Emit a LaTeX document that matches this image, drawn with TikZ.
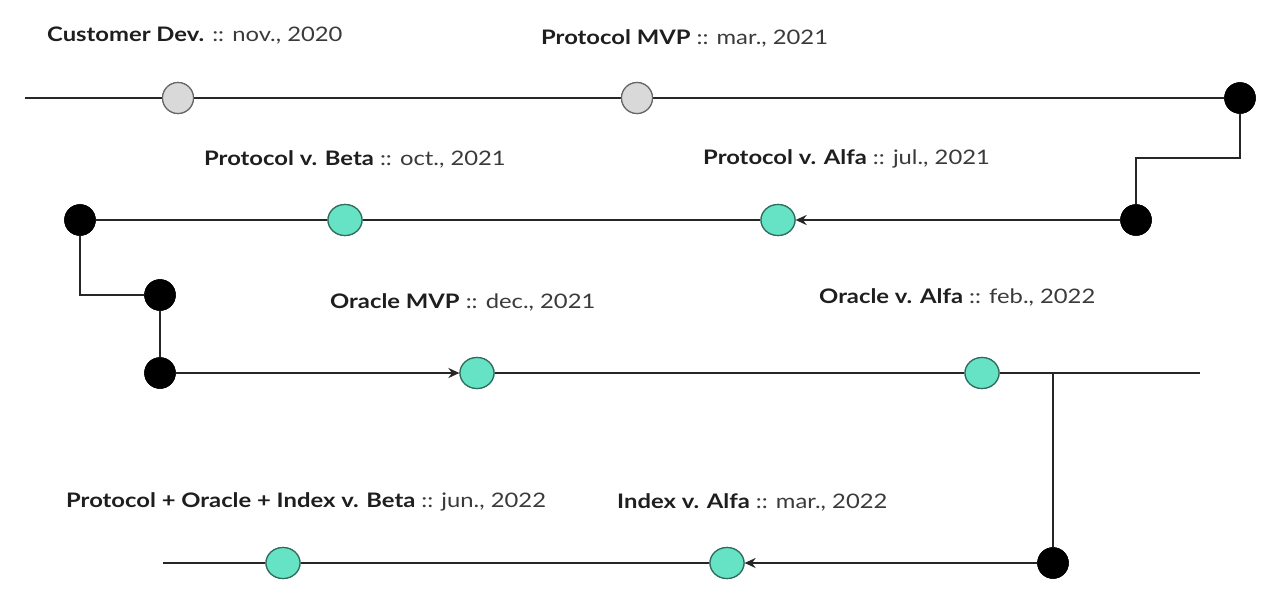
\documentclass[tikz,border=0pt]{standalone}
\usepackage{fontspec}
\setmainfont{Lato}[FakeStretch=1.19]
\usetikzlibrary{arrows.meta,shapes.geometric}
\definecolor{tealfill}{HTML}{66E3C4}
\definecolor{tealdraw}{HTML}{2E6B5C}
\definecolor{grayfill}{HTML}{D9D9D9}
\definecolor{linecol}{HTML}{262626}
\definecolor{txtbold}{HTML}{1E1E1E}
\definecolor{txtreg}{HTML}{3A3A3A}
\begin{document}
\begin{tikzpicture}[x=1pt,y=-1pt,
  gnode/.style={circle,draw=black!60,fill=grayfill,line width=1.2pt,minimum size=31pt,inner sep=0pt},
  tnode/.style={ellipse,draw=tealdraw,fill=tealfill,line width=1.2pt,minimum width=34pt,minimum height=31pt,inner sep=0pt},
  bnode/.style={circle,fill=black,draw=black,minimum size=31pt,inner sep=0pt},
  tl/.style={line width=2pt,draw=linecol},
  arr/.style={tl,-{Stealth[length=11pt,width=10pt]}},
  lbl/.style={anchor=west,inner sep=0pt,font=\fontsize{20}{24}\selectfont}
]
\useasboundingbox (0,0) rectangle (1268,600);
% row 1
\coordinate (s1) at (25,98);
\node[gnode] (cd) at (178,98) {};
\node[gnode] (pm) at (637,98) {};
\node[bnode] (b1) at (1240,98) {};
% row 2
\node[bnode] (b2) at (1136,220) {};
\node[tnode] (pa) at (778,220) {};
\node[tnode] (pb) at (345,220) {};
\node[bnode] (b3) at (80,220) {};
% row 3
\node[bnode] (b4) at (160,295) {};
\node[bnode] (b5) at (160,373) {};
\node[tnode] (om) at (477,373) {};
\node[tnode] (oa) at (982,373) {};
\coordinate (e3) at (1200,373);
\coordinate (j3) at (1053,373);
% row 4
\node[bnode] (b6) at (1053,563) {};
\node[tnode] (ia) at (727,563) {};
\node[tnode] (pi) at (283,563) {};
\coordinate (e4) at (163,563);

% lines
\draw[tl] (s1) -- (cd) -- (pm) -- (b1);
\draw[tl] (b1) |- (1136,158) -- (b2);
\draw[arr] (b2) -- (pa);
\draw[tl] (pa) -- (pb) -- (b3);
\draw[tl] (b3) |- (b4);
\draw[tl] (b4) -- (b5);
\draw[arr] (b5) -- (om);
\draw[tl] (om) -- (oa) -- (e3);
\draw[tl] (j3) -- (b6);
\draw[arr] (b6) -- (ia);
\draw[tl] (ia) -- (pi) -- (e4);
% redraw nodes on top
\node[gnode] at (cd) {};
\node[gnode] at (pm) {};
\node[bnode] at (b1) {};
\node[bnode] at (b2) {};
\node[tnode] at (pa) {};
\node[tnode] at (pb) {};
\node[bnode] at (b3) {};
\node[bnode] at (b4) {};
\node[bnode] at (b5) {};
\node[tnode] at (om) {};
\node[tnode] at (oa) {};
\node[bnode] at (b6) {};
\node[tnode] at (ia) {};
\node[tnode] at (pi) {};

% labels
\node[lbl] (l1) at (47,36) {\textcolor{txtbold}{\textbf{Customer Dev.}} \textcolor{txtreg}{:: nov., 2020}};
\node[lbl] (l2) at (541,38) {\textcolor{txtbold}{\textbf{Protocol MVP}} \textcolor{txtreg}{:: mar., 2021}};
\node[lbl] (l3) at (204,159) {\textcolor{txtbold}{\textbf{Protocol v. Beta}} \textcolor{txtreg}{:: oct., 2021}};
\node[lbl] (l4) at (703,159) {\textcolor{txtbold}{\textbf{Protocol v. Alfa}} \textcolor{txtreg}{:: jul., 2021}};
\node[lbl] (l5) at (330,302) {\textcolor{txtbold}{\textbf{Oracle MVP}} \textcolor{txtreg}{:: dec., 2021}};
\node[lbl] (l6) at (819,297) {\textcolor{txtbold}{\textbf{Oracle v. Alfa}} \textcolor{txtreg}{:: feb., 2022}};
\node[lbl] (l7) at (66,502) {\textcolor{txtbold}{\textbf{Protocol + Oracle + Index v. Beta}} \textcolor{txtreg}{:: jun., 2022}};
\node[lbl] (l8) at (617,502) {\textcolor{txtbold}{\textbf{Index v. Alfa}} \textcolor{txtreg}{:: mar., 2022}};
\end{tikzpicture}
\end{document}
